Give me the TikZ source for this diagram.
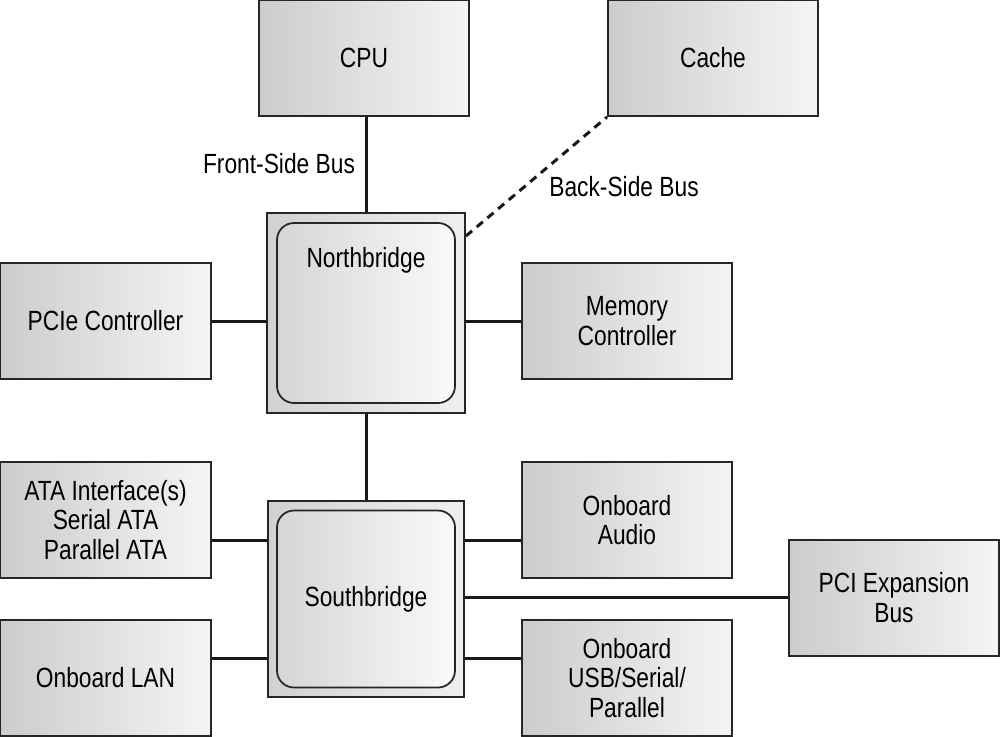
\documentclass[tikz,border=0pt]{standalone}
\usepackage{fontspec}
\setmainfont[FakeStretch=0.82]{Liberation Sans}
\usetikzlibrary{positioning}

\begin{document}
\begin{tikzpicture}[x=0.2mm,y=-0.2mm,
    every node/.style={font=\fontsize{15.8}{16.6}\selectfont, align=center, inner sep=0pt},
    unit/.style={draw=black!85, line width=0.4mm, left color=gray!40, right color=gray!8,
      minimum width=42mm, minimum height=23.2mm},
    chipframe/.style={draw=black!85, line width=0.4mm, left color=gray!36, right color=gray!12},
    core/.style={draw=black!85, line width=0.35mm, rounded corners=3.4mm,
      left color=gray!33, right color=gray!4},
    bus/.style={line width=0.6mm, black!90},
    backbus/.style={line width=0.6mm, black!90, dash pattern=on 1.6mm off 1.2mm}]
        \useasboundingbox (0,0) rectangle (1000,737);
        \node [unit] (cpu) at (364,58) {CPU};
        \node [unit] (cache) at (713,58) {Cache};
        \node [unit] (pcie) at (105.5,321) {PCIe Controller};
        \node [unit] (mem) at (627,321) {Memory\\Controller};
        \node [unit] (ata) at (105.5,520) {ATA Interface(s)\\Serial ATA\\Parallel ATA};
        \node [unit] (lan) at (105.5,678) {Onboard LAN};
        \node [unit] (audio) at (627,520) {Onboard\\Audio};
        \node [unit] (usb) at (627,678) {Onboard\\USB/Serial/\\Parallel};
        \node [unit] (pci) at (894,597.5) {PCI Expansion\\Bus};
        \node [chipframe, minimum width=39.6mm, minimum height=40mm] (nb) at (366,313) {};
        \node [core, minimum width=35.6mm, minimum height=36mm,
          label={[anchor=center, yshift=-7.6mm]north:Northbridge}] (nbcore) at (366,313) {};
        \node [chipframe, minimum width=39.2mm, minimum height=39.2mm] (sb) at (366,599) {};
        \node [core, minimum width=35.6mm, minimum height=35.4mm] (sbcore) at (366,599) {Southbridge};
        \node (fsb) at (279,164) {Front-Side Bus};
        \node (bsb) at (624,187) {Back-Side Bus};
        \draw [bus] (nb.north) -- (nb.north |- cpu.south);
        \draw [backbus] ([yshift=-4.8mm]nb.north east) -- (cache.south west);
        \draw [bus] (pcie.east) -- (pcie -| nb.west);
        \draw [bus] (mem.west) -- (mem -| nb.east);
        \draw [bus] (nb.south) -- (sb.north);
        \draw [bus] ([yshift=-4mm]ata.east) -- ([yshift=-4mm]ata.east -| sb.west);
        \draw [bus] ([yshift=4mm]lan.east) -- ([yshift=4mm]lan.east -| sb.west);
        \draw [bus] ([yshift=-4mm]audio.west) -- ([yshift=-4mm]audio.west -| sb.east);
        \draw [bus] ([yshift=4mm]usb.west) -- ([yshift=4mm]usb.west -| sb.east);
        \draw [bus] (pci.west) -- (pci -| sb.east);
\end{tikzpicture}
\end{document}
